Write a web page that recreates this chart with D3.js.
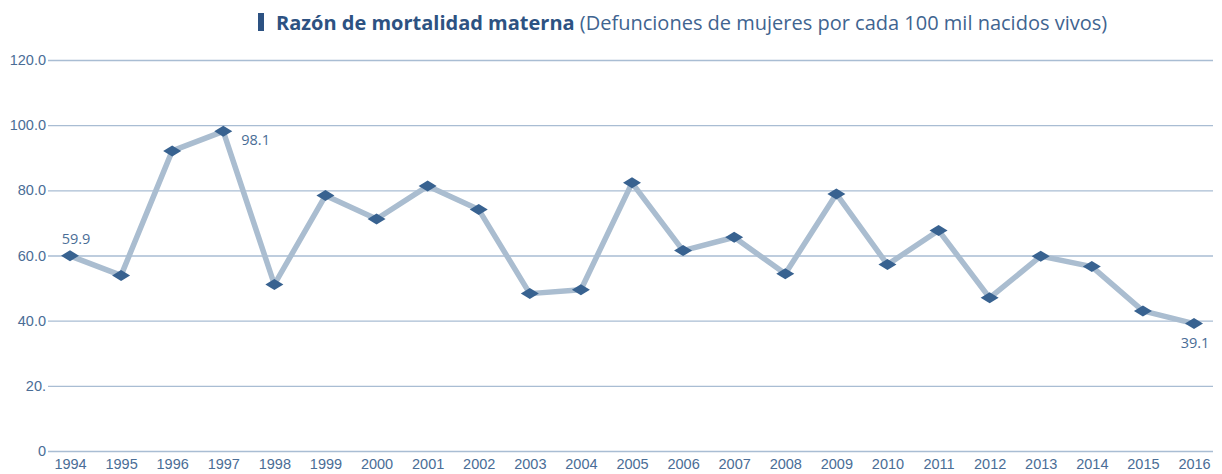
<!DOCTYPE html>
<head>
<meta charset="utf-8">
<style>
  body { margin: 0; background: #fff; }
  svg { display: block; font-family: 'Open Sans', sans-serif; }
  .tick text { fill: #4a6d96; font-size: 14.5px; }
</style>
</head>
<body>
  <svg width="1222" height="474"></svg>

  <script src="https://d3js.org/d3.v7.min.js"></script>
  <script>
  // Razón de mortalidad materna, 1994-2016
  const years = d3.range(1994, 2017);
  const values = [59.9, 53.9, 92.1, 98.1, 51.1, 78.4, 71.2, 81.3, 74.1, 48.3, 49.5, 82.3,
                  61.5, 65.6, 54.4, 78.9, 57.2, 67.7, 47.0, 59.8, 56.6, 43.0, 39.1];
  const yTicks = [0, 20, 40, 60, 80, 100, 120];
  const yTickLabels = ['0', '20.', '40.0', '60.0', '80.0', '100.0', '120.0'];
  // which points get a value label and where it sits
  const labelled = [
    { year: 1994, pos: 'above' },
    { year: 1997, pos: 'right' },
    { year: 2016, pos: 'below' }
  ];

  const svg = d3.select('svg');
  const left = 48, right = 1213;

  const x = d3.scalePoint()
    .domain(years)
    .range([70, 1194]);
  const y = d3.scaleLinear()
    .domain([0, 120])
    .range([451, 60]);

  // gridlines + y labels
  const yAxis = svg.append('g')
    .attr('transform', `translate(${left},0)`)
    .call(d3.axisLeft(y)
      .tickValues(yTicks)
      .tickFormat((d, i) => yTickLabels[i])
      .tickSize(-(right - left))
      .tickPadding(2));
  yAxis.select('.domain').remove();
  yAxis.selectAll('.tick line')
    .attr('stroke', '#a9bdd3')
    .attr('stroke-width', 1.3);

  // x labels
  const xAxis = svg.append('g')
    .attr('transform', 'translate(0,451)')
    .call(d3.axisBottom(x).tickSize(0).tickPadding(8));
  xAxis.select('.domain').remove();

  // line
  const line = d3.line()
    .x((d, i) => x(years[i]))
    .y(d => y(d));
  svg.append('path')
    .datum(values)
    .attr('fill', 'none')
    .attr('stroke', '#aabdd0')
    .attr('stroke-width', 5.5)
    .attr('stroke-linejoin', 'round')
    .attr('d', line);

  // diamond markers
  svg.append('g')
    .selectAll('path')
    .data(values)
    .join('path')
    .attr('transform', (d, i) => `translate(${x(years[i])},${y(d)})`)
    .attr('d', 'M-9,0L0,-5.5L9,0L0,5.5Z')
    .attr('fill', '#386290');

  // value labels
  svg.append('g')
    .selectAll('text')
    .data(labelled)
    .join('text')
    .attr('x', d => x(d.year) + (d.pos === 'right' ? 18 : d.pos === 'below' ? 1 : 6))
    .attr('y', d => {
      const v = y(values[years.indexOf(d.year)]);
      return d.pos === 'above' ? v - 12 : d.pos === 'below' ? v + 24 : v + 14;
    })
    .attr('text-anchor', d => d.pos === 'right' ? 'start' : 'middle')
    .attr('fill', '#4a6d96')
    .attr('font-size', 14.5)
    .text(d => values[years.indexOf(d.year)].toFixed(1));

  // title
  svg.append('rect')
    .attr('x', 258).attr('y', 13)
    .attr('width', 6).attr('height', 18)
    .attr('fill', '#2d5282');
  const title = svg.append('text')
    .attr('x', 276).attr('y', 30)
    .attr('font-size', 20)
    .attr('fill', '#2d5282');
  title.append('tspan')
    .attr('font-weight', 'bold')
    .text('Razón de mortalidad materna');
  title.append('tspan')
    .attr('fill', '#3f6490')
    .text(' (Defunciones de mujeres por cada 100 mil nacidos vivos)');
  </script>
</body>
</html>
